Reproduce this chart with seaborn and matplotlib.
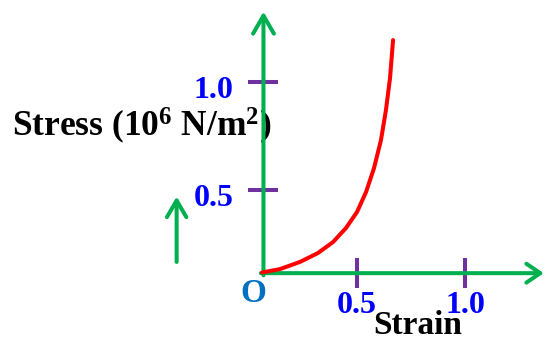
import matplotlib
matplotlib.use("Agg")
import matplotlib.pyplot as plt
from matplotlib.transforms import ScaledTranslation
import seaborn as sns

# Stress-strain curve (schematic), strain vs stress in 10^6 N/m^2
strain = [0.060, 0.144, 0.236, 0.319, 0.389, 0.449, 0.500, 0.542, 0.579, 0.611, 0.634, 0.653, 0.667]
stress = [0.118, 0.134, 0.167, 0.208, 0.259, 0.324, 0.398, 0.491, 0.602, 0.731, 0.870, 1.019, 1.194]

x_ticks = [0.5, 1.0]
x_tick_labels = ["0.5", "1.0"]
y_ticks = [0.5, 1.0]
y_tick_labels = ["0.5", "1.0"]

sns.set_style("white")
plt.rcParams["font.family"] = ["Liberation Serif", "DejaVu Serif"]
plt.rcParams["font.weight"] = "bold"
plt.rcParams["mathtext.fontset"] = "custom"
plt.rcParams["mathtext.rm"] = "Liberation Serif:bold"
plt.rcParams["mathtext.bf"] = "Liberation Serif:bold"
plt.rcParams["mathtext.it"] = "Liberation Serif:bold"

GREEN = "#00B050"
PURPLE = "#7030A0"
BLUE = "#0000FF"
RED = "#FF0000"
ORIGIN_BLUE = "#0070C0"

fig = plt.figure(figsize=(5.45, 3.43), dpi=100)
ax = fig.add_axes([0, 0, 1, 1])
ax.set_xlim(-1.1528, 1.3704)
ax.set_ylim(-0.2083, 1.3796)

# origin of the drawn axes
x0, y0 = 0.067, 0.115

for side in ["top", "right", "left", "bottom"]:
    ax.spines[side].set_visible(False)
ax.spines["left"].set_position(("data", x0))
ax.spines["bottom"].set_position(("data", y0))

# curve
sns.lineplot(x=strain, y=stress, color=RED, linewidth=2.9, ax=ax,
             zorder=4, sort=False, estimator=None)

# axis arrows
ax.annotate("", xy=(x0, 1.326), xytext=(x0, y0 - 0.01),
            arrowprops=dict(arrowstyle="->,head_length=1.3,head_width=0.75",
                            color=GREEN, lw=2.9, shrinkA=0, shrinkB=0,
                            mutation_scale=10), zorder=3)
ax.annotate("", xy=(1.365, y0), xytext=(0.055, y0),
            arrowprops=dict(arrowstyle="->,head_length=1.0,head_width=0.68",
                            color=GREEN, lw=2.9, shrinkA=0, shrinkB=0,
                            mutation_scale=10), zorder=3)
# small upward arrow beside the stress label
ax.annotate("", xy=(-0.335, 0.470), xytext=(-0.335, 0.167),
            arrowprops=dict(arrowstyle="->,head_length=1.2,head_width=0.7",
                            color=GREEN, lw=2.9, shrinkA=0, shrinkB=0,
                            mutation_scale=10), zorder=3)

# ticks
ax.set_xticks(x_ticks, labels=x_tick_labels)
ax.set_yticks(y_ticks, labels=y_tick_labels)
ax.tick_params(axis="both", bottom=True, left=True, direction="inout",
               length=22, width=2.9, color=PURPLE, labelcolor=BLUE,
               labelsize=23)
ax.tick_params(axis="x", pad=2)
ax.tick_params(axis="y", pad=10.5)
shift_down = ScaledTranslation(0, -0.05, fig.dpi_scale_trans)
for lbl in ax.get_xticklabels():
    lbl.set_fontweight("bold")
for lbl in ax.get_yticklabels():
    lbl.set_fontweight("bold")
    lbl.set_transform(lbl.get_transform() + shift_down)

# labels
ax.set_ylabel(r"Stress (10$^{6}$ N/m$^{2}$)", rotation=0, ha="left", va="center",
              fontsize=25.5, fontweight="bold", color="black")
ax.yaxis.set_label_coords(0.022, 0.634)
ax.set_xlabel("Strain", ha="center", va="center", fontsize=24,
              fontweight="bold", color="black")
ax.xaxis.set_label_coords(0.767, 0.050)

ax.text(0.0185, 0.023, "O", ha="center", va="center", fontsize=24,
        fontweight="bold", color=ORIGIN_BLUE)

fig.savefig("out.png", dpi=100, facecolor="white")
